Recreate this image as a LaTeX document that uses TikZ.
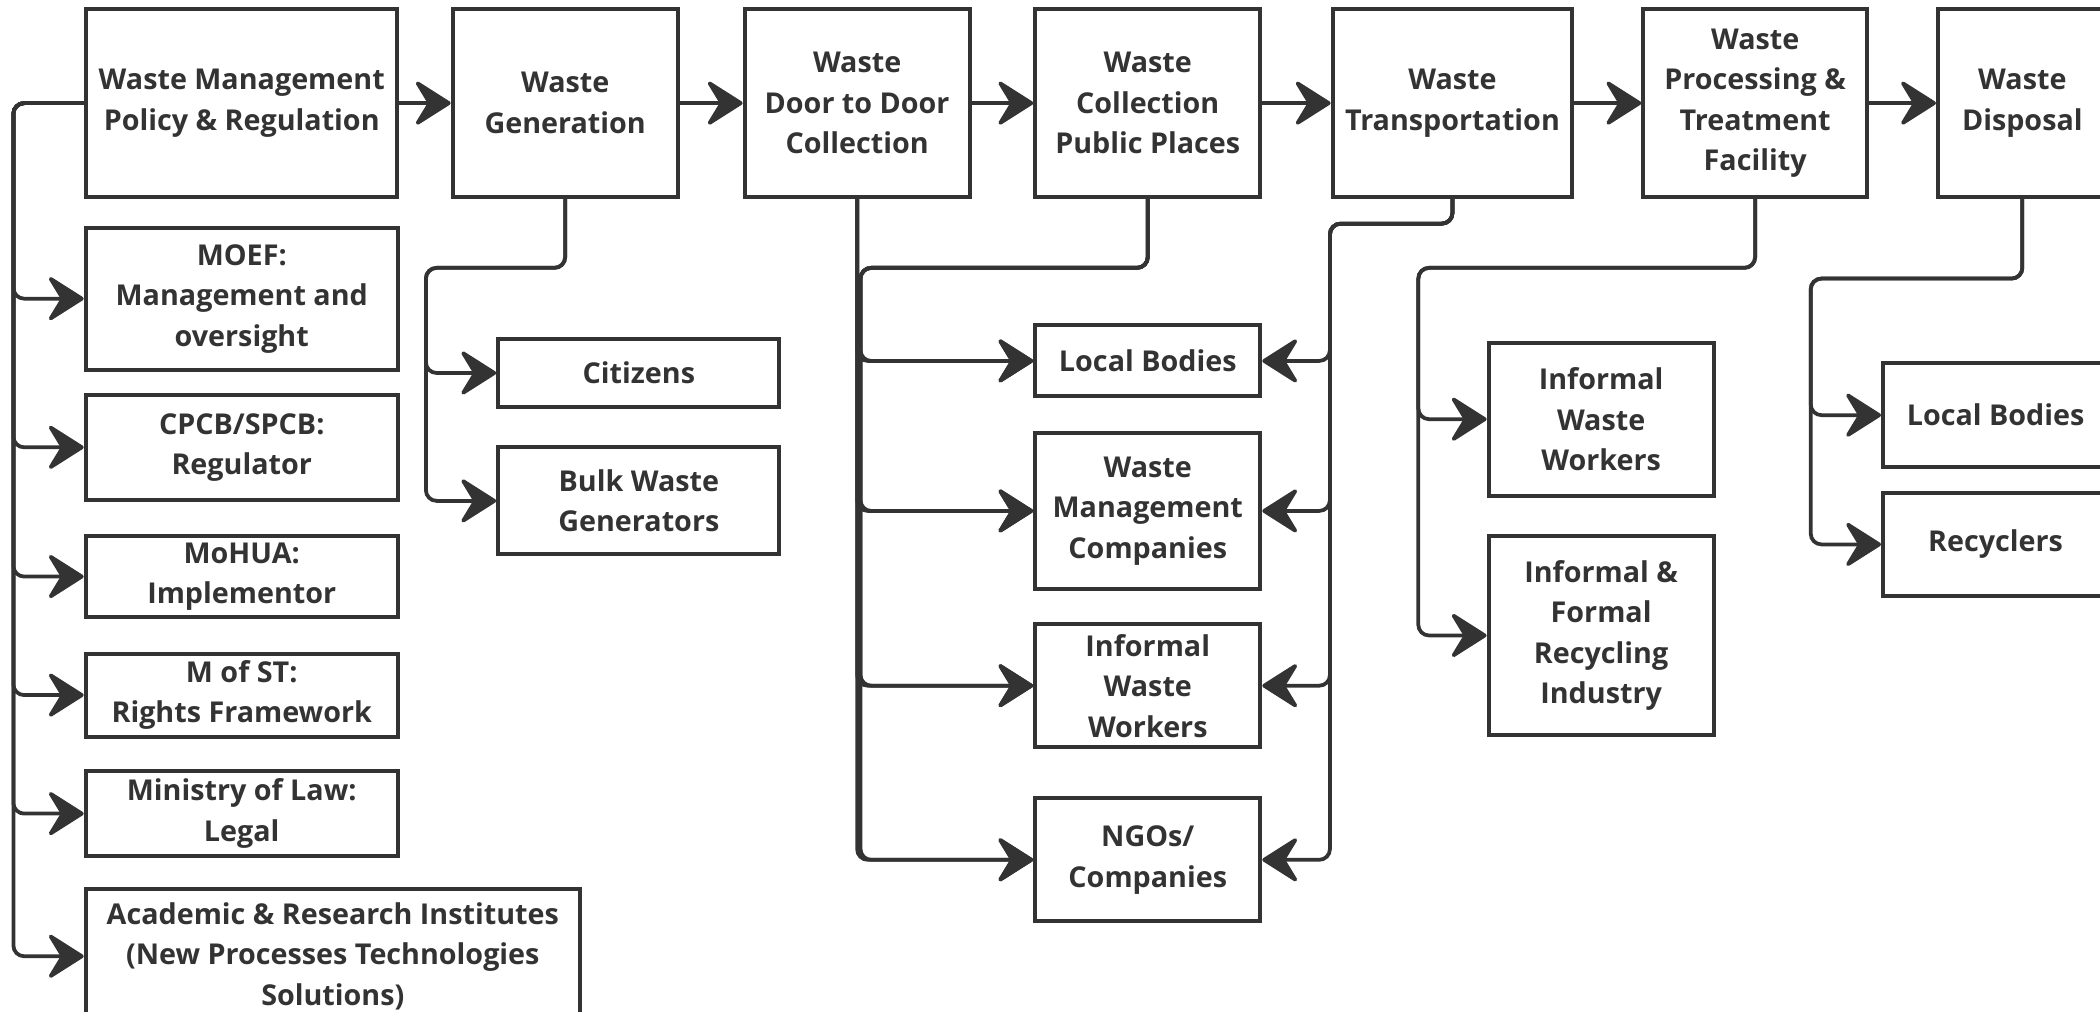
\documentclass[tikz,border=0pt]{standalone}
\usepackage{fontspec}
\setmainfont{Open Sans}
\usetikzlibrary{arrows.meta}
\definecolor{ink}{HTML}{333333}

\begin{document}
\begin{tikzpicture}[x=0.2mm,y=-0.2mm,
  box/.style={draw=ink,line width=1.7pt,rectangle,align=center,inner sep=2pt,text=ink,
    font=\bfseries\fontsize{12.2}{17.2}\selectfont},
  link/.style={draw=ink,line width=1.6pt,rounded corners=1.6mm,
    -{Stealth[length=6mm,width=7.6mm,inset=2.3mm,round]}}]
    \clip (0,0) rectangle (1568,755);
    % main chain
    \node[box,minimum width=46.4mm,minimum height=28mm] (pol) at (180.5,77) {Waste Management\\Policy \& Regulation};
    \node[box,minimum width=33.6mm,minimum height=28mm] (gen) at (422,77) {Waste\\Generation};
    \node[box,minimum width=33.6mm,minimum height=28mm] (dtd) at (640,77) {Waste\\Door to Door\\Collection};
    \node[box,minimum width=33.6mm,minimum height=28mm] (pub) at (857,77) {Waste\\Collection\\Public Places};
    \node[box,minimum width=35.8mm,minimum height=28mm] (trn) at (1084.5,77) {Waste\\Transportation};
    \node[box,minimum width=33.4mm,minimum height=28mm] (prc) at (1310.5,77) {Waste\\Processing \&\\Treatment\\Facility};
    \node[box,minimum width=25.2mm,minimum height=28mm] (dsp) at (1510,77) {Waste\\Disposal};
    % policy actors
    \node[box,minimum width=46.6mm,minimum height=21.2mm] (moef) at (180.5,223) {MOEF:\\Management and\\oversight};
    \node[box,minimum width=46.6mm,minimum height=15.6mm] (cpcb) at (180.5,334) {CPCB/SPCB:\\Regulator};
    \node[box,minimum width=46.6mm,minimum height=12.2mm] (mohua) at (180.5,430.5) {MoHUA:\\Implementor};
    \node[box,minimum width=46.6mm,minimum height=12.4mm] (most) at (180.5,519) {M of ST:\\Rights Framework};
    \node[box,minimum width=46.6mm,minimum height=12.6mm] (law) at (180.5,607.5) {Ministry of Law:\\Legal};
    \node[box,minimum width=73.8mm,minimum height=20mm] (acad) at (248.5,714) {Academic \& Research Institutes\\(New Processes Technologies\\Solutions)};
    % generators
    \node[box,minimum width=42mm,minimum height=10.2mm] (cit) at (477,278.5) {Citizens};
    \node[box,minimum width=42mm,minimum height=16mm] (bulk) at (477,374) {Bulk Waste\\Generators};
    % collectors
    \node[box,minimum width=33.6mm,minimum height=10.6mm] (mlb) at (857,269.5) {Local Bodies};
    \node[box,minimum width=33.6mm,minimum height=23.4mm] (mwmc) at (857,381.5) {Waste\\Management\\Companies};
    \node[box,minimum width=33.6mm,minimum height=18.4mm] (miww) at (857,512) {Informal\\Waste\\Workers};
    \node[box,minimum width=33.6mm,minimum height=18.4mm] (ngo) at (857,642) {NGOs/\\Companies};
    % processors
    \node[box,minimum width=33.6mm,minimum height=22.8mm] (piww) at (1195.5,313) {Informal\\Waste\\Workers};
    \node[box,minimum width=33.6mm,minimum height=29.8mm] (ind) at (1195.5,474.5) {Informal \&\\Formal\\Recycling\\Industry};
    % disposers
    \node[box,minimum width=33.6mm,minimum height=15.6mm] (rlb) at (1490,310) {Local Bodies};
    \node[box,minimum width=33.6mm,minimum height=15.4mm] (rec) at (1490,406.5) {Recyclers};
    % turning points
    \coordinate (pl) at (10,77);\coordinate (gl) at (318,200);
    \coordinate (pp) at (642.5,200);\coordinate (tl) at (993,167);
    \coordinate (pr) at (1059,200);\coordinate (dl) at (1352,208);
    % connectors
    \foreach \a/\b in {pol/gen,gen/dtd,dtd/pub,pub/trn,trn/prc,prc/dsp} \draw[link] (\a.east) -- (\b.west);
    \foreach \n in {moef,cpcb,mohua,most,law,acad} \draw[link] (pol.west) -- (pl) |- (\n.west);
    \foreach \n in {cit,bulk} \draw[link] (gen.south) |- (gl) |- (\n.west);
    \foreach \n in {mlb,mwmc,miww,ngo} {
        \draw[link] (dtd.south) |- (\n.west);
        \draw[link] (pub.south) |- (pp) |- (\n.west);
        \draw[link] (trn.south) |- (tl) |- (\n.east);}
    \foreach \n in {piww,ind} \draw[link] (prc.south) |- (pr) |- (\n.west);
    \foreach \n in {rlb,rec} \draw[link] (dsp.south) |- (dl) |- (\n.west);
\end{tikzpicture}
\end{document}
